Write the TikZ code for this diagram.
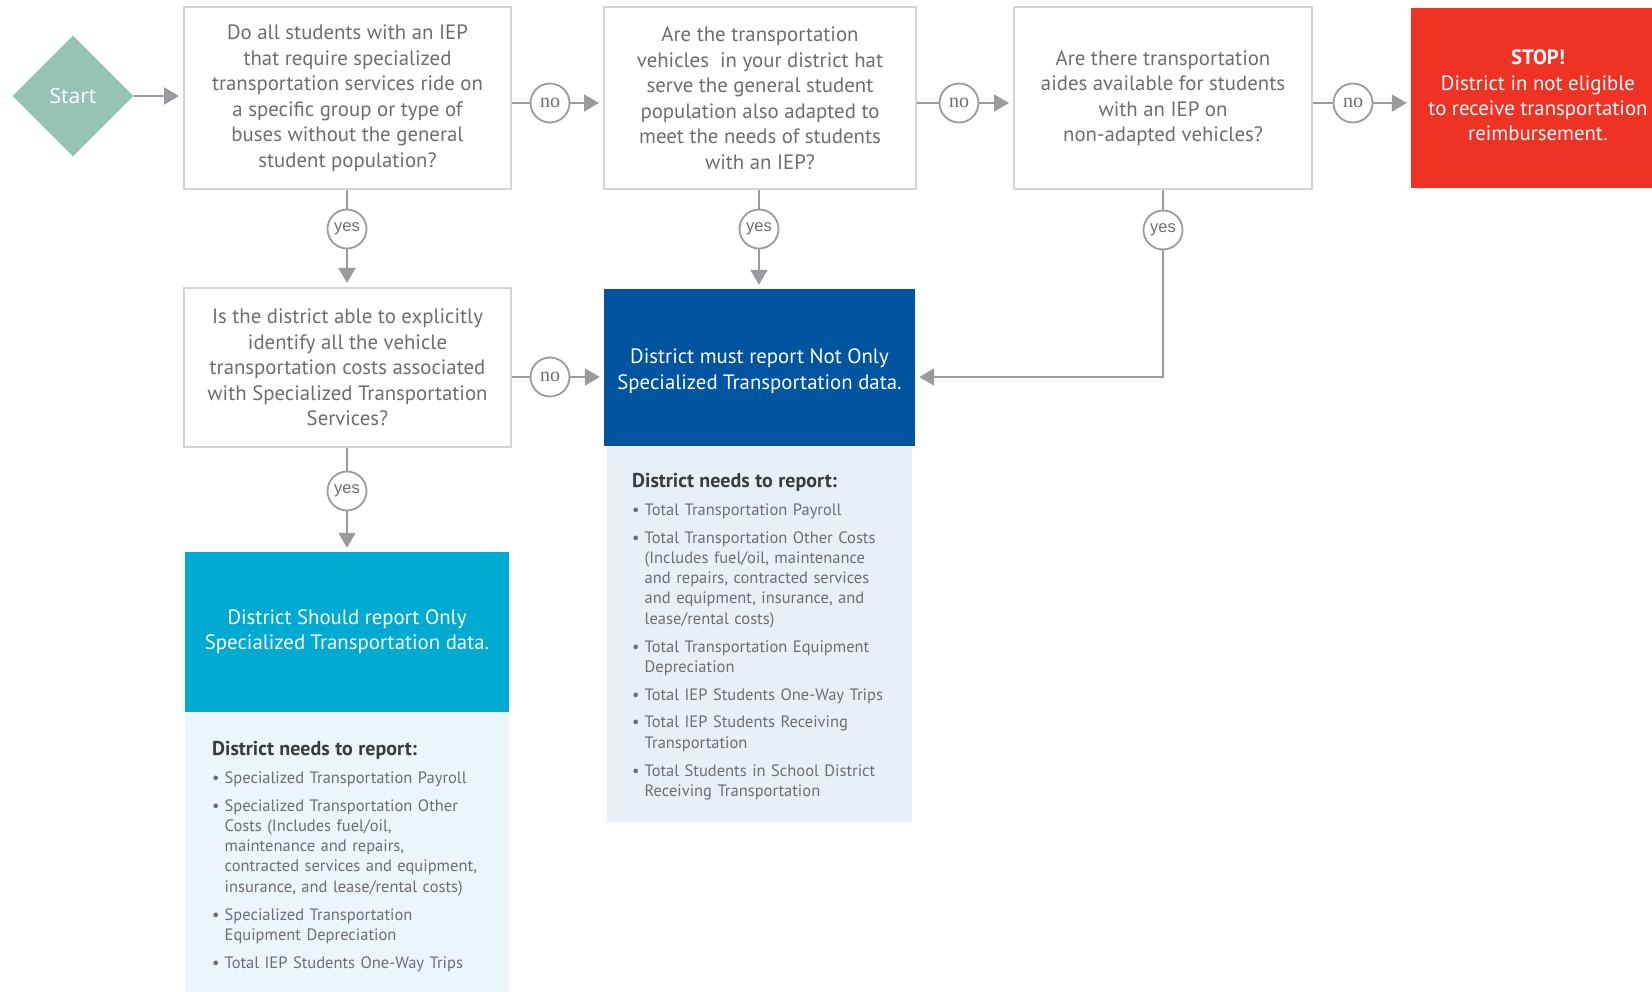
\documentclass[tikz,border=0pt]{standalone}
\usepackage{fontspec}
\setmainfont{PT Sans}
\newfontfamily\circserif{Liberation Serif}
\newfontfamily\circsans{Liberation Sans}
\newfontfamily\startsans{Open Sans}
\usetikzlibrary{arrows.meta,shapes.geometric,positioning}

\definecolor{boxgray}{HTML}{D1D3D4}
\definecolor{linegray}{HTML}{9A9B9E}
\definecolor{txtgray}{HTML}{6D6E71}
\definecolor{headgray}{HTML}{3A3B3D}
\definecolor{sage}{HTML}{97C2B6}
\definecolor{stopred}{HTML}{EE3224}
\definecolor{mustblue}{HTML}{0054A0}
\definecolor{shouldcyan}{HTML}{00AAD0}
\definecolor{mustbg}{HTML}{E9EFF6}
\definecolor{shouldbg}{HTML}{EAF6FA}

\newcommand{\litem}[1]{\par\hangindent=12.5pt\hangafter=1\noindent
  \makebox[12.5pt][l]{\textbullet}#1}

\begin{document}
\begin{tikzpicture}[x=1pt,y=-1pt,
    question/.style={draw=boxgray,line width=2pt,fill=white,align=center,
      text=txtgray,inner sep=0pt,font=\fontsize{20.8}{25.5}\selectfont},
    result/.style={align=center,text=white,inner sep=0pt,
      font=\fontsize{20.8}{25.3}\selectfont},
    circ/.style={circle,draw=linegray,line width=1.8pt,fill=white,
      minimum size=39pt,inner sep=0pt,text=txtgray},
    nocirc/.style={circ,font=\circserif\fontsize{20}{20}\selectfont},
    yescirc/.style={circ,font=\circsans\fontsize{16.5}{16.5}\selectfont},
    conn/.style={draw=linegray,line width=2pt},
    arr/.style={conn,-{Triangle[length=15pt,width=17pt]},shorten >=4pt},
    needs/.style={anchor=north west,inner sep=0pt,text width=290pt,
      align=left,text=txtgray,font=\fontsize{16.5}{20.3}\selectfont}]

  \useasboundingbox (0,0) rectangle (1652,992);

  % top row of questions
  \node[diamond,fill=sage,minimum width=121pt,minimum height=121pt,
    inner sep=0pt,text=white,font=\startsans\fontsize{21}{21}\selectfont]
    (start) at (73,96) {Start};
  \node[question,minimum width=327pt,minimum height=182pt] (q1) at (347.5,98)
    {Do all students with an IEP\\that require specialized\\transportation services ride on\\a specific group or type of\\buses without the general\\student population?};
  \node[question,minimum width=312pt,minimum height=182pt] (q2) at (760,98)
    {Are the transportation\\vehicles\ \ in your district hat\\serve the general student\\population also adapted to\\meet the needs of students\\with an IEP?};
  \node[question,minimum width=298pt,minimum height=182pt] (q3) at (1163,98)
    {Are there transportation\\aides available for students\\with an IEP on\\non-adapted vehicles?};
  \node[result,fill=stopred,minimum width=254pt,minimum height=180pt] (stop) at (1538,98)
    {{\bfseries STOP!}\\District in not eligible\\to receive transportation\\reimbursement.\\[-20pt]};

  % second row
  \node[question,minimum width=327pt,minimum height=159pt] (q4) at (347.5,367.5)
    {Is the district able to explicitly\\identify all the vehicle\\transportation costs associated\\with Specialized Transportation\\Services?};
  \node[result,fill=mustblue,minimum width=311pt,minimum height=157pt] (must) at (759.5,367.5)
    {\\[-3pt]District must report Not Only\\Specialized Transportation data.};
  \fill[mustbg] (607,446) rectangle (912,822);
  \node[result,fill=shouldcyan,minimum width=324pt,minimum height=160pt] (should) at (347,632)
    {District Should report Only\\Specialized Transportation data.};
  \fill[shouldbg] (185,712) rectangle (509,1000);

  % lists
  \node[needs] (mustlist) at (632,473) {\setlength{\parskip}{7.5pt}%
    {\color{headgray}\bfseries\fontsize{20}{20.3}\selectfont District needs to report:}
    \litem{Total Transportation Payroll}
    \litem{Total Transportation Other Costs\newline(Includes fuel/oil, maintenance\newline and repairs, contracted services\newline and equipment, insurance, and\newline lease/rental costs)}
    \litem{Total Transportation Equipment\newline Depreciation}
    \litem{Total IEP Students One-Way Trips}
    \litem{Total IEP Students Receiving\newline Transportation}
    \litem{Total Students in School District\newline Receiving Transportation}\par};
  \node[needs] (shouldlist) at (212,741) {\setlength{\parskip}{7.5pt}%
    {\color{headgray}\bfseries\fontsize{20}{20.3}\selectfont District needs to report:}
    \litem{Specialized Transportation Payroll}
    \litem{Specialized Transportation Other\newline Costs (Includes fuel/oil,\newline maintenance and repairs,\newline contracted services and equipment,\newline insurance, and lease/rental costs)}
    \litem{Specialized Transportation\newline Equipment Depreciation}
    \litem{Total IEP Students One-Way Trips}\par};

  % no / yes circles
  \node[nocirc] (n1) at (550,103) {no};
  \node[nocirc] (n2) at (959,103) {no};
  \node[nocirc] (n3) at (1353,103) {no};
  \node[nocirc] (n4) at (550,377) {no};
  \node[yescirc] (y1) at (347,229) {yes};
  \node[yescirc] (y2) at (759,229) {yes};
  \node[yescirc] (y3) at (1163,230) {yes};
  \node[yescirc] (y4) at (347,491) {yes};

  % connectors
  \draw[arr] (start) -- (q1.west |- start);
  \draw[conn] (q1.east |- n1) -- (n1);
  \draw[arr] (n1) -- (q2.west |- n1);
  \draw[conn] (q2.east |- n2) -- (n2);
  \draw[arr] (n2) -- (q3.west |- n2);
  \draw[conn] (q3.east |- n3) -- (n3);
  \draw[arr] (n3) -- (stop.west |- n3);
  \draw[conn] (q1.south -| y1) -- (y1);
  \draw[arr] (y1) -- (q4.north -| y1);
  \draw[conn] (q2.south -| y2) -- (y2);
  \draw[arr] (y2) -- (must.north -| y2);
  \draw[conn] (q3.south -| y3) -- (y3);
  \draw[arr] (y3) |- (must.east |- n4);
  \draw[conn] (q4.east |- n4) -- (n4);
  \draw[arr] (n4) -- (must.west |- n4);
  \draw[conn] (q4.south -| y4) -- (y4);
  \draw[arr] (y4) -- (should.north -| y4);

\end{tikzpicture}
\end{document}
